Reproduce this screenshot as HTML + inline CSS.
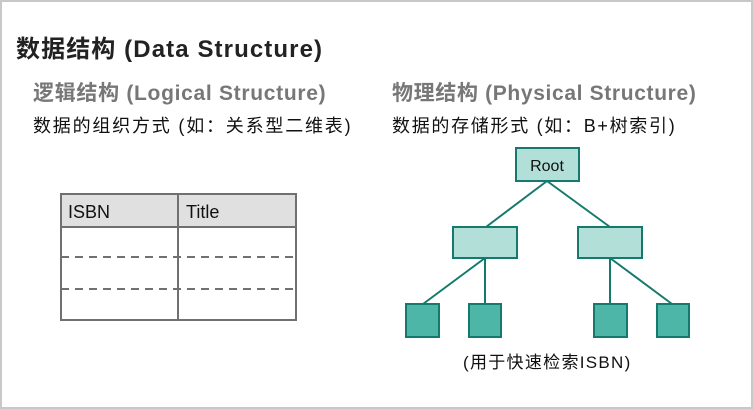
<!DOCTYPE html>
<html><head><meta charset="utf-8"><style>
body{margin:0;width:753px;height:409px;overflow:hidden;background:#fff;font-family:"Liberation Sans","Noto Sans CJK SC",sans-serif}
.frame{position:absolute;left:0;top:0;width:749px;height:405px;border:2px solid #c8c8c8}
.t{position:absolute;white-space:nowrap}
</style></head><body>
<div class="frame"></div>
<div class="t" style="left:16px;top:29px;font-size:24px;font-weight:bold;color:#222;letter-spacing:1.1px">数据结构 (Data Structure)</div>
<div class="t" style="left:33px;top:77px;font-size:21px;font-weight:bold;color:#777;letter-spacing:0.7px">逻辑结构 (Logical Structure)</div>
<div class="t" style="left:33px;top:112px;font-size:18px;color:#111;letter-spacing:1.8px">数据的组织方式 (如：关系型二维表)</div>
<div class="t" style="left:392px;top:77px;font-size:21px;font-weight:bold;color:#777;letter-spacing:0.65px">物理结构 (Physical Structure)</div>
<div class="t" style="left:392px;top:112px;font-size:18px;color:#111;letter-spacing:1.7px">数据的存储形式 (如：B+树索引)</div>
<svg width="753" height="409" style="position:absolute;left:0;top:0">
<rect x="61" y="194" width="235" height="33" fill="#e0e0e0"/>
<rect x="61" y="194" width="235" height="126" fill="none" stroke="#707070" stroke-width="2"/>
<line x1="61" y1="227" x2="296" y2="227" stroke="#707070" stroke-width="2"/>
<line x1="178" y1="194" x2="178" y2="320" stroke="#707070" stroke-width="2"/>
<line x1="61" y1="257" x2="296" y2="257" stroke="#707070" stroke-width="2" stroke-dasharray="8,6"/>
<line x1="61" y1="289" x2="296" y2="289" stroke="#707070" stroke-width="2" stroke-dasharray="8,6"/>
<text x="68" y="218" font-size="18" fill="#111" font-family="Liberation Sans">ISBN</text>
<text x="186" y="218" font-size="18" fill="#111" font-family="Liberation Sans">Title</text>
<g stroke="#157a6e" stroke-width="2">
<line x1="547" y1="181" x2="486" y2="227"/><line x1="547" y1="181" x2="610" y2="227"/>
<line x1="485" y1="258" x2="423" y2="304"/><line x1="485" y1="258" x2="485" y2="304"/>
<line x1="610" y1="258" x2="610" y2="304"/><line x1="610" y1="258" x2="672" y2="304"/>
<rect x="516" y="148" width="63" height="33" fill="#b2e0d8"/>
<rect x="453" y="227" width="64" height="31" fill="#b2e0d8"/>
<rect x="578" y="227" width="64" height="31" fill="#b2e0d8"/>
<rect x="406" y="304" width="33" height="33" fill="#4db6a6"/>
<rect x="469" y="304" width="32" height="33" fill="#4db6a6"/>
<rect x="594" y="304" width="33" height="33" fill="#4db6a6"/>
<rect x="657" y="304" width="32" height="33" fill="#4db6a6"/>
</g>
<text x="547" y="171" font-size="16" fill="#111" text-anchor="middle" font-family="Liberation Sans">Root</text>
</svg>
<div class="t" style="left:463px;top:348px;font-size:17px;color:#111;letter-spacing:1.3px">(用于快速检索ISBN)</div>
</body></html>
